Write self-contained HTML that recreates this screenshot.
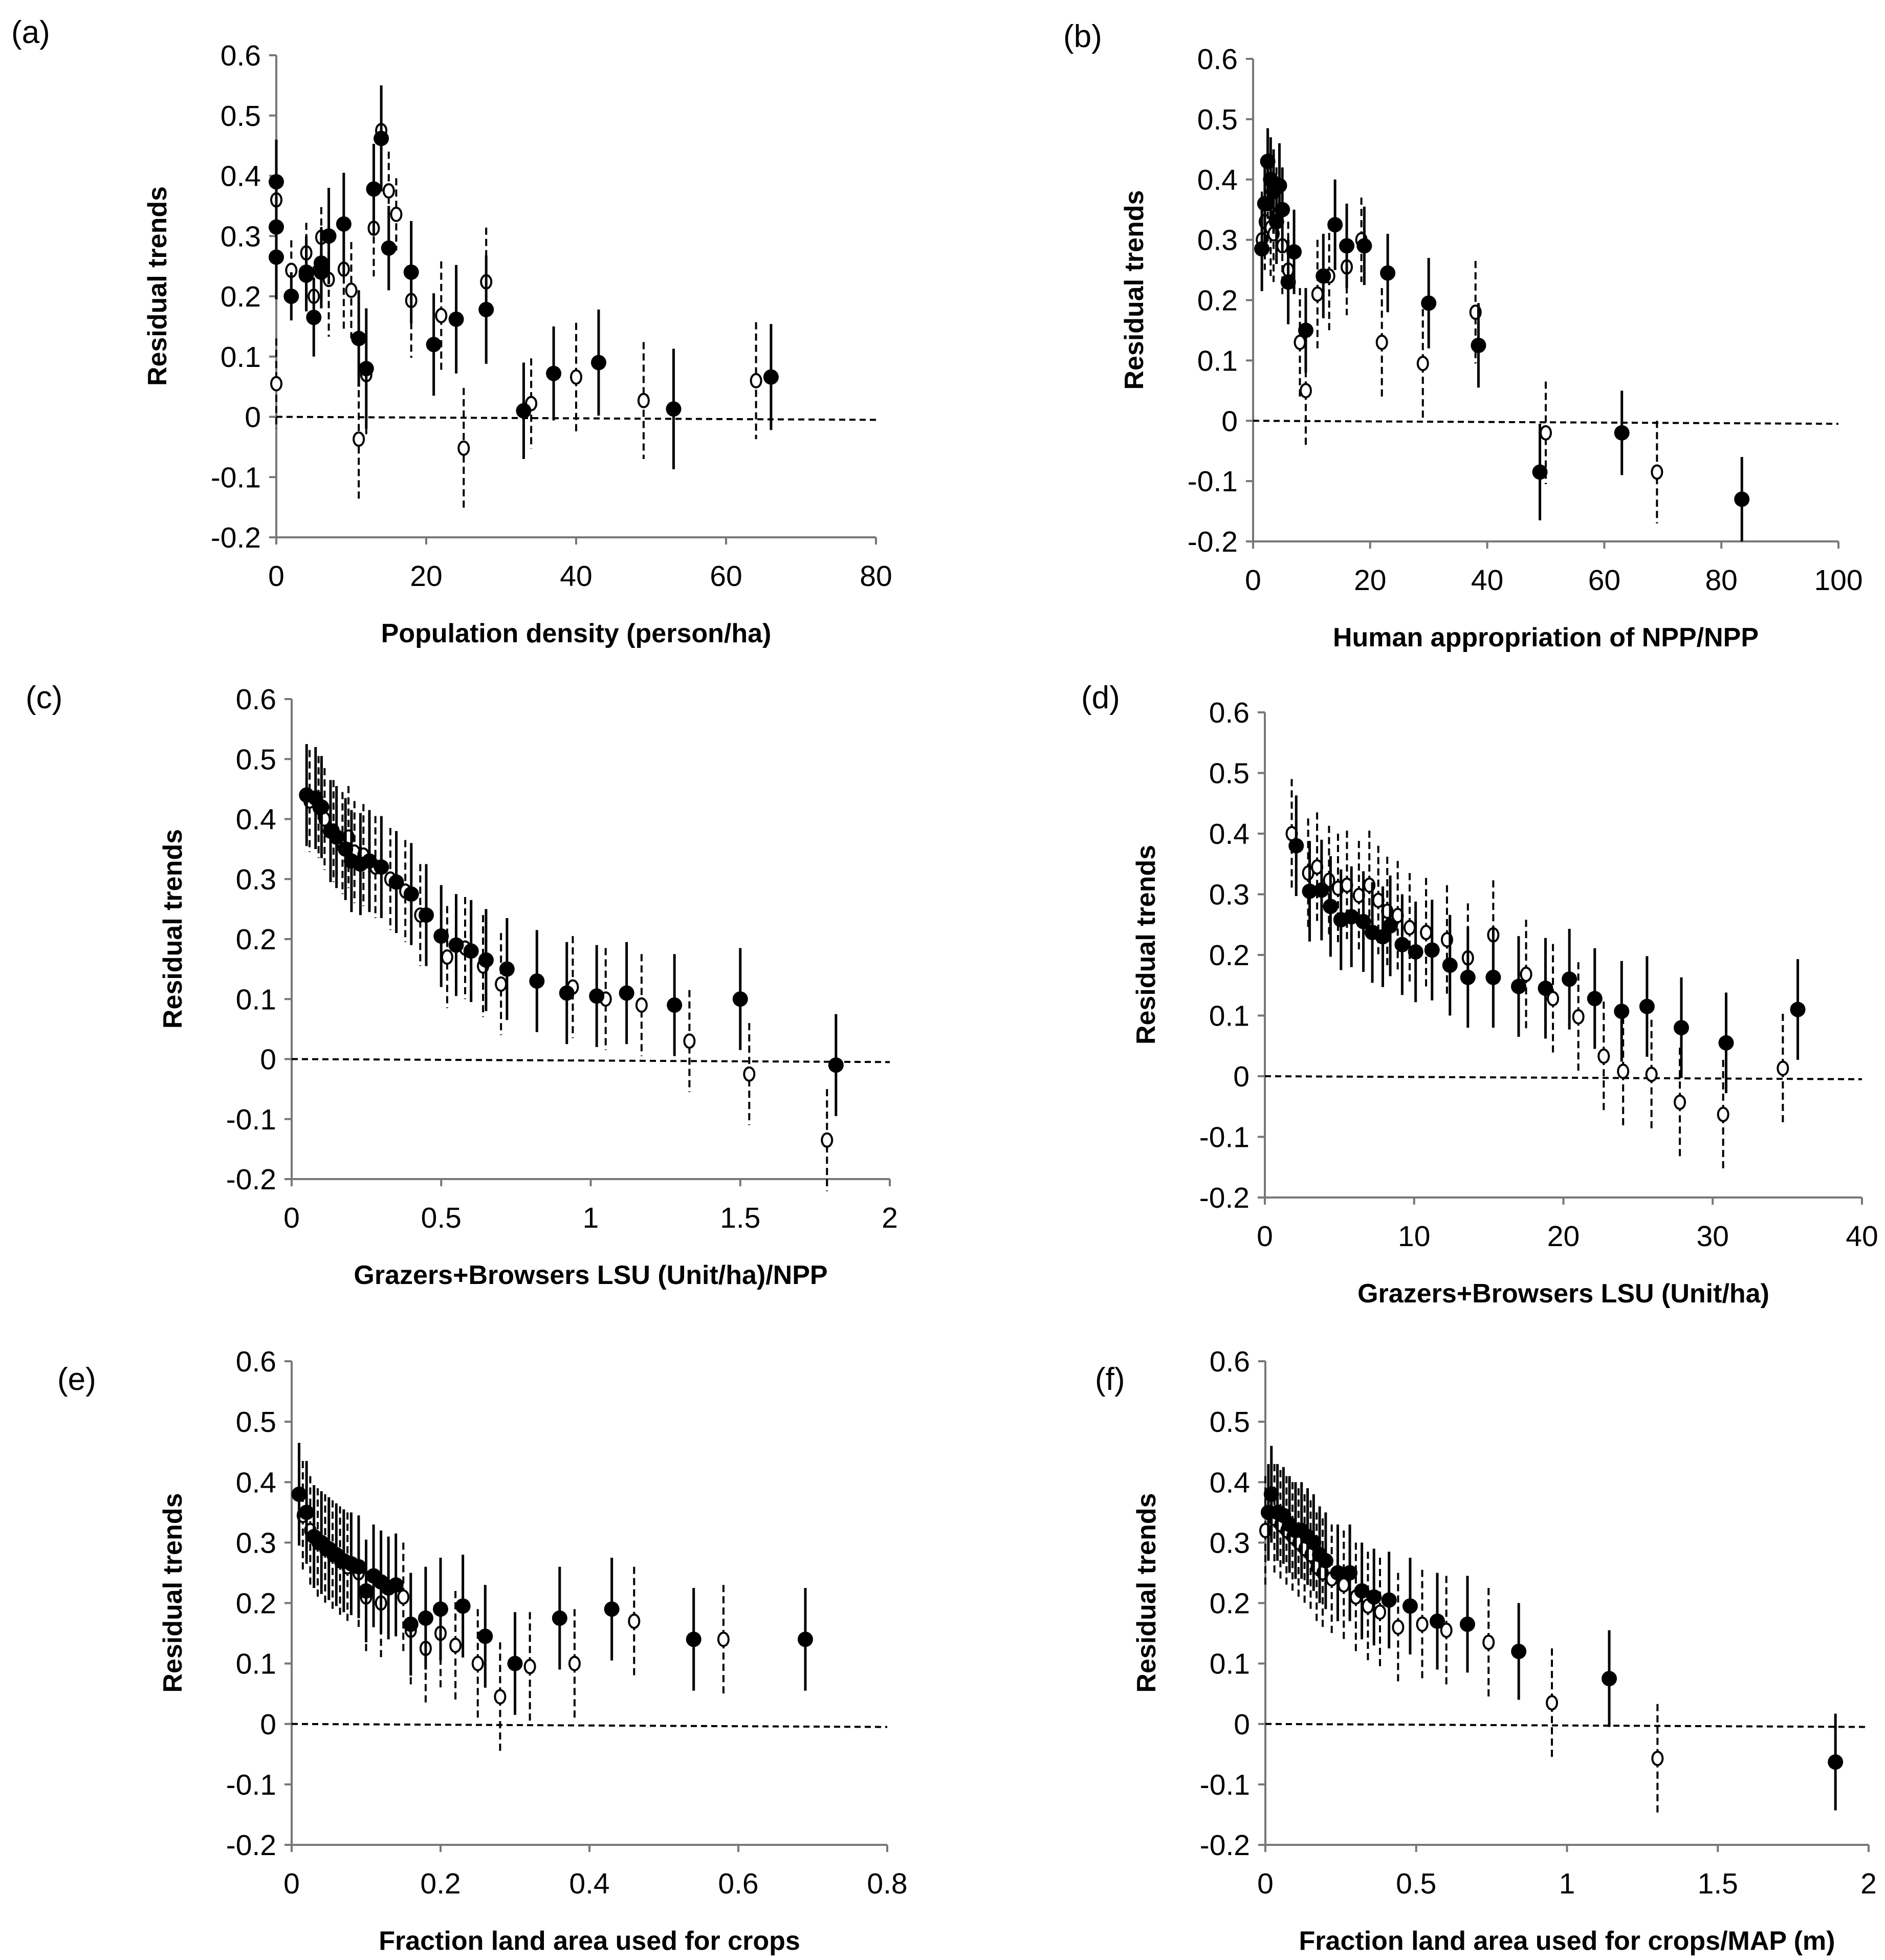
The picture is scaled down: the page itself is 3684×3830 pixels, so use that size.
<!DOCTYPE html>
<html><head><meta charset="utf-8"><style>
html,body{margin:0;padding:0;background:#fff;}
svg{display:block;font-family:"Liberation Sans",sans-serif;}
</style></head><body>
<svg id="fig" width="3684" height="3830" viewBox="0 0 3684 3830" xmlns="http://www.w3.org/2000/svg"></svg>
<script>
// ---- data (x, y, half-error) ----
const aFilledX=[0,0,0,2,4,4,5,6,6,7,9,11,12,13,14,15,18,21,24,28,33,37,43,53,66];
const aFilledY=[0.39,0.315,0.265,0.2,0.235,0.24,0.165,0.255,0.24,0.3,0.32,0.13,0.08,0.378,0.462,0.28,0.24,0.12,0.162,0.178,0.01,0.072,0.09,0.013,0.066];
const aFilledE=[0.07,0.07,0.07,0.04,0.06,0.06,0.065,0.06,0.06,0.08,0.085,0.08,0.1,0.075,0.088,0.07,0.085,0.085,0.09,0.09,0.08,0.078,0.088,0.1,0.088];
const aOpenX=[0,0,2,4,5,6,7,9,10,11,12,13,14,15,16,18,22,25,28,34,40,49,64];
const aOpenY=[0.36,0.055,0.243,0.272,0.2,0.298,0.228,0.245,0.21,-0.037,0.07,0.313,0.475,0.375,0.336,0.193,0.168,-0.052,0.224,0.022,0.066,0.027,0.06];
const aOpenE=[0.08,0.075,0.05,0.05,0.05,0.05,0.095,0.1,0.08,0.1,0.1,0.08,0.07,0.065,0.06,0.095,0.09,0.1,0.09,0.075,0.09,0.097,0.097];

const bFilledX=[1.5,2,2.5,3,3.5,4,4.5,5,6,7,9,12,14,16,19,23,30,38.5,49,63,83.5];
const bFilledY=[0.285,0.36,0.43,0.4,0.38,0.33,0.39,0.35,0.23,0.28,0.15,0.24,0.325,0.29,0.29,0.245,0.195,0.125,-0.085,-0.02,-0.13];
const bFilledE=[0.07,0.07,0.055,0.07,0.07,0.07,0.07,0.07,0.07,0.07,0.07,0.07,0.075,0.07,0.065,0.065,0.075,0.07,0.08,0.07,0.07];
const bOpenX=[1.5,2,2.5,3,3.5,4,5,6,8,9,11,13,16,18.5,22,29,38,50,69];
const bOpenY=[0.3,0.33,0.36,0.32,0.31,0.34,0.29,0.25,0.13,0.05,0.21,0.24,0.255,0.3,0.13,0.095,0.18,-0.02,-0.085];
const bOpenE=[0.08,0.08,0.08,0.08,0.08,0.08,0.08,0.08,0.09,0.09,0.09,0.09,0.08,0.07,0.09,0.09,0.085,0.085,0.085];

const cFilledX=[0.05,0.08,0.1,0.13,0.15,0.18,0.2,0.23,0.26,0.3,0.35,0.4,0.45,0.5,0.55,0.6,0.65,0.72,0.82,0.92,1.02,1.12,1.28,1.5,1.82];
const cFilledY=[0.44,0.435,0.42,0.38,0.37,0.35,0.33,0.325,0.33,0.32,0.295,0.275,0.24,0.205,0.19,0.18,0.165,0.15,0.13,0.11,0.105,0.11,0.09,0.1,-0.01];
const cFilledE=Array(25).fill(0.085);
const cOpenX=[0.06,0.09,0.11,0.14,0.17,0.19,0.21,0.24,0.28,0.33,0.38,0.43,0.52,0.58,0.64,0.7,0.94,1.05,1.17,1.33,1.53,1.79];
const cOpenY=[0.43,0.42,0.4,0.38,0.36,0.37,0.345,0.34,0.32,0.3,0.28,0.24,0.17,0.185,0.155,0.125,0.12,0.1,0.09,0.03,-0.025,-0.135];
const cOpenE=Array(22).fill(0.085);

const dFilledX=[2.1,3,3.8,4.4,5.1,5.8,6.6,7.2,7.9,8.4,9.2,10.1,11.2,12.4,13.6,15.3,17,18.8,20.4,22.1,23.9,25.6,27.9,30.9,35.7];
const dFilledY=[0.38,0.305,0.307,0.28,0.258,0.263,0.255,0.237,0.23,0.248,0.217,0.205,0.208,0.183,0.163,0.163,0.148,0.145,0.16,0.128,0.107,0.115,0.08,0.055,0.11];
const dFilledE=Array(25).fill(0.083);
const dOpenX=[1.8,2.9,3.5,4.3,4.9,5.5,6.3,7,7.6,8.2,8.9,9.7,10.8,12.2,13.6,15.3,17.5,19.3,21,22.7,24,25.9,27.8,30.7,34.7];
const dOpenY=[0.4,0.335,0.345,0.323,0.31,0.315,0.298,0.315,0.29,0.272,0.265,0.245,0.237,0.225,0.195,0.233,0.168,0.128,0.098,0.033,0.008,0.003,-0.043,-0.063,0.013];
const dOpenE=Array(25).fill(0.09);

const eFilledX=[0.01,0.02,0.03,0.04,0.05,0.06,0.07,0.08,0.09,0.1,0.11,0.12,0.13,0.14,0.16,0.18,0.2,0.23,0.26,0.3,0.36,0.43,0.54,0.69];
const eFilledY=[0.38,0.35,0.31,0.3,0.29,0.28,0.27,0.265,0.26,0.22,0.245,0.235,0.225,0.23,0.165,0.175,0.19,0.195,0.145,0.1,0.175,0.19,0.14,0.14];
const eFilledE=Array(24).fill(0.085);
const eOpenX=[0.015,0.025,0.035,0.045,0.055,0.065,0.075,0.09,0.1,0.12,0.15,0.16,0.18,0.2,0.22,0.25,0.28,0.32,0.38,0.46,0.58];
const eOpenY=[0.345,0.32,0.3,0.29,0.28,0.27,0.26,0.25,0.21,0.2,0.21,0.155,0.125,0.15,0.13,0.1,0.045,0.095,0.1,0.17,0.14];
const eOpenE=Array(21).fill(0.09);

const fFilledX=[0.01,0.02,0.04,0.06,0.08,0.1,0.12,0.14,0.16,0.18,0.2,0.24,0.28,0.32,0.36,0.41,0.48,0.57,0.67,0.84,1.14,1.89];
const fFilledY=[0.35,0.38,0.35,0.345,0.33,0.32,0.32,0.31,0.3,0.28,0.27,0.25,0.25,0.22,0.21,0.205,0.195,0.17,0.165,0.12,0.075,-0.063];
const fFilledE=Array(22).fill(0.08);
const fOpenX=[0.0,0.03,0.05,0.07,0.09,0.11,0.13,0.15,0.17,0.19,0.22,0.26,0.3,0.34,0.38,0.44,0.52,0.6,0.74,0.95,1.3];
const fOpenY=[0.32,0.34,0.33,0.32,0.31,0.3,0.29,0.28,0.26,0.25,0.24,0.23,0.21,0.195,0.185,0.16,0.165,0.155,0.135,0.035,-0.057];
const fOpenE=Array(21).fill(0.09);

const yTicks=["0.6","0.5","0.4","0.3","0.2","0.1","0","-0.1","-0.2"];
const aXTicks=["0","20","40","60","80"];
const bXTicks=["0","20","40","60","80","100"];
const cXTicks=["0","0.5","1","1.5","2"];
const dXTicks=["0","10","20","30","40"];
const eXTicks=["0","0.2","0.4","0.6","0.8"];
const fXTicks=["0","0.5","1","1.5","2"];

// ---- layout ----
const panels=[
 {id:"a",L:540,R:1712,T:108,B:1050,xmax:80,ticks:aXTicks,title:"Population density (person/ha)",lab:[22,84],fx:aFilledX,fy:aFilledY,fe:aFilledE,ox:aOpenX,oy:aOpenY,oe:aOpenE},
 {id:"b",L:2449,R:3593,T:115,B:1058,xmax:100,ticks:bXTicks,title:"Human appropriation of NPP/NPP",lab:[2078,92],fx:bFilledX,fy:bFilledY,fe:bFilledE,ox:bOpenX,oy:bOpenY,oe:bOpenE},
 {id:"c",L:570,R:1739,T:1366,B:2304,xmax:2,ticks:cXTicks,title:"Grazers+Browsers LSU (Unit/ha)/NPP",lab:[50,1384],fx:cFilledX,fy:cFilledY,fe:cFilledE,ox:cOpenX,oy:cOpenY,oe:cOpenE},
 {id:"d",L:2472,R:3639,T:1392,B:2340,xmax:40,ticks:dXTicks,title:"Grazers+Browsers LSU (Unit/ha)",lab:[2113,1384],fx:dFilledX,fy:dFilledY,fe:dFilledE,ox:dOpenX,oy:dOpenY,oe:dOpenE},
 {id:"e",L:570,R:1734,T:2660,B:3605,xmax:0.8,ticks:eXTicks,title:"Fraction land area used for crops",lab:[112,2716],fx:eFilledX,fy:eFilledY,fe:eFilledE,ox:eOpenX,oy:eOpenY,oe:eOpenE},
 {id:"f",L:2473,R:3652,T:2660,B:3605,xmax:2,ticks:fXTicks,title:"Fraction land area used for crops/MAP (m)",lab:[2140,2716],fx:fFilledX,fy:fFilledY,fe:fFilledE,ox:fOpenX,oy:fOpenY,oe:fOpenE}
];
const NS="http://www.w3.org/2000/svg";
const svg=document.getElementById('fig');
function mk(tag,attrs,parent,text){const e=document.createElementNS(NS,tag);for(const k in attrs)e.setAttribute(k,attrs[k]);if(text!==undefined)e.textContent=text;parent.appendChild(e);return e;}

panels.forEach(p=>{
  const g=mk('g',{},svg);
  
  
  const xs=v=>p.L+(v/p.xmax)*(p.R-p.L);
  const ys=v=>p.T+(0.6-v)/0.8*(p.B-p.T);
  const lab=mk('text',{x:p.lab[0],y:p.lab[1],'font-size':62,fill:'#000'},g,'('+p.id+')');
  
  
  const ya=mk('line',{x1:p.L,y1:p.T,x2:p.L,y2:p.B,stroke:'#777','stroke-width':4},g);
  
  
  const xa=mk('line',{x1:p.L,y1:p.B,x2:p.R,y2:p.B,stroke:'#777','stroke-width':4},g);
  
  
  yTicks.forEach(t=>{
    const yy=ys(parseFloat(t));
    mk('line',{x1:p.L-14,y1:yy,x2:p.L,y2:yy,stroke:'#777','stroke-width':4},g);
    const tl=mk('text',{x:p.L-30,y:yy+20,'font-size':57,'text-anchor':'end',fill:'#000'},g,t);
    
    
  });
  p.ticks.forEach(t=>{
    const xx=xs(parseFloat(t));
    mk('line',{x1:xx,y1:p.B,x2:xx,y2:p.B+14,stroke:'#777','stroke-width':4},g);
    const tl=mk('text',{x:xx,y:p.B+95,'font-size':57,'text-anchor':'middle',fill:'#000'},g,t);
    
    
  });
  const xt=mk('text',{x:(p.L+p.R)/2,y:p.B+205,'font-size':52,'font-weight':'bold','text-anchor':'middle',fill:'#000'},g,p.title);
  
  
  const ycx=p.L-215, ycy=(p.T+p.B)/2-20;
  const yt=mk('text',{x:ycx,y:ycy,'font-size':52,'font-weight':'bold','text-anchor':'middle',fill:'#000',transform:`rotate(-90 ${ycx} ${ycy})`},g,'Residual trends');
  
  
  const zl=mk('line',{x1:p.L,y1:ys(0),x2:p.R,y2:ys(-0.005),stroke:'#000','stroke-width':4,'stroke-dasharray':'12 8'},g);
  
  
  p.ox.forEach((x,i)=>{
    const cx=xs(x),cy=ys(p.oy[i]),e=p.oe[i];
    const eb=mk('line',{x1:cx,y1:ys(p.oy[i]+e),x2:cx,y2:ys(p.oy[i]-e),stroke:'#000','stroke-width':4,'stroke-dasharray':'14 8'},g);
    
    
    const pt=mk('ellipse',{cx:cx,cy:cy,rx:10,ry:13,fill:'#fff',stroke:'#000','stroke-width':4},g);
    
    
  });
  p.fx.forEach((x,i)=>{
    const cx=xs(x),cy=ys(p.fy[i]),e=p.fe[i];
    const eb=mk('line',{x1:cx,y1:ys(p.fy[i]+e),x2:cx,y2:ys(p.fy[i]-e),stroke:'#000','stroke-width':5},g);
    
    
    const pt=mk('circle',{cx:cx,cy:cy,r:15,fill:'#000'},g);
    
    
  });
});
</script>
</body></html>
